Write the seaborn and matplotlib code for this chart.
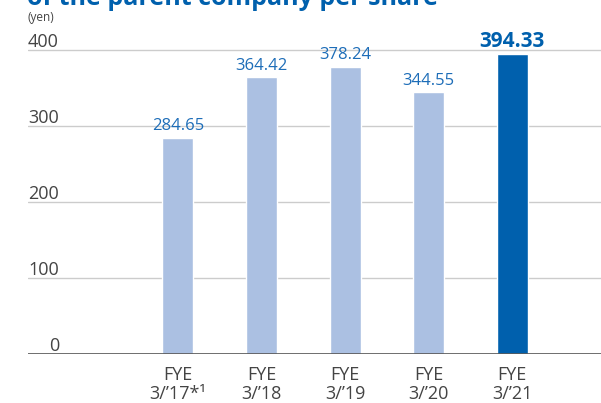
import matplotlib
matplotlib.use("Agg")
import matplotlib.pyplot as plt
import seaborn as sns
import pandas as pd

# data
years = ["FYE\n3/\u201917*\u00b9", "FYE\n3/\u201918", "FYE\n3/\u201919", "FYE\n3/\u201920", "FYE\n3/\u201921"]
values = [284.65, 364.42, 378.24, 344.55, 394.33]
y_ticks = [0, 100, 200, 300, 400]

light_blue = "#abc0e2"
dark_blue = "#0060ad"
label_blue = "#1d6db8"
grey_text = "#444444"

sns.set_theme(style="white")
plt.rcParams["font.family"] = ["Open Sans", "DejaVu Sans"]

df = pd.DataFrame({"year": years, "value": values})
colors = [light_blue] * (len(years) - 1) + [dark_blue]

fig = plt.figure(figsize=(6.01, 4.03), dpi=100)
ax = fig.add_axes([28 / 601, 49 / 403, 573 / 601, 319 / 403])

sns.barplot(data=df, x="year", y="value", hue="year", palette=colors,
            width=0.37, legend=False, ax=ax, saturation=1)

ax.set_ylim(0, 420)
ax.set_xlim(-1.794, 5.061)
ax.set_xlabel("")
ax.set_ylabel("")
ax.set_yticks([])
for s in ax.spines.values():
    s.set_visible(False)

# grid lines and y labels sitting above the lines
for t in y_ticks:
    if t == 0:
        ax.axhline(t, color="#555555", lw=1.2, zorder=3)
    else:
        ax.axhline(t, color="#cccccc", lw=1.0, zorder=0)
    ax.text(0.054, t + 4, str(t), transform=ax.get_yaxis_transform(),
            ha="right", va="baseline", fontsize=13, color=grey_text)

ax.tick_params(axis="x", length=0, pad=9, labelsize=13, labelcolor=grey_text)
for lab in ax.get_xticklabels():
    lab.set_linespacing(1.05)

# value labels
for i, v in enumerate(values):
    last = i == len(values) - 1
    ax.text(i, v + 10, f"{v:.2f}", ha="center", va="baseline",
            fontsize=15 if last else 12, fontweight="bold" if last else "normal",
            color=dark_blue if last else label_blue)

fig.text(28 / 601, 1 - 21 / 403, "(yen)", fontsize=8.5, color=grey_text, va="baseline")
fig.text(27 / 601, 1 - 5 / 403, "of the parent company per share", fontsize=18,
         fontweight="bold", color=dark_blue, va="baseline")

fig.savefig("out.png", dpi=100)
